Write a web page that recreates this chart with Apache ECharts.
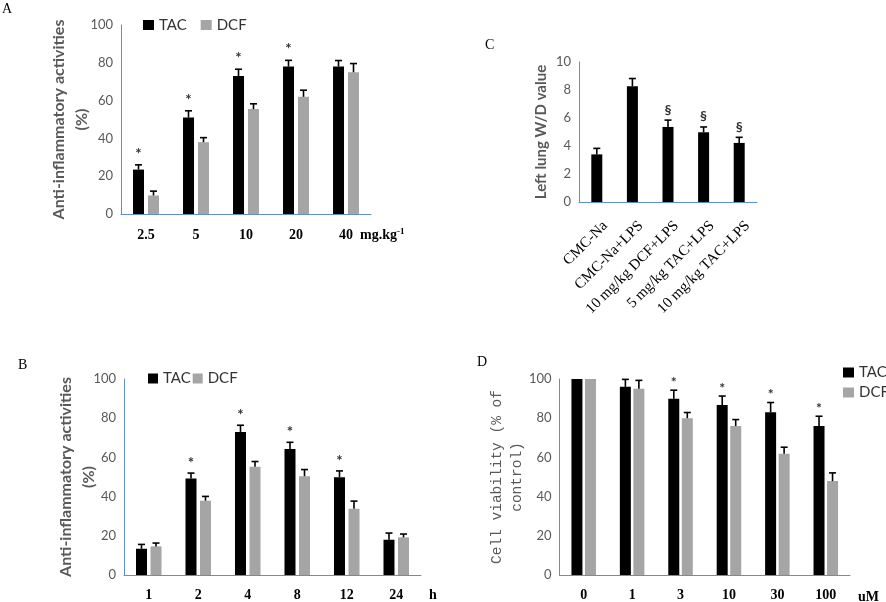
<!DOCTYPE html>
<html>
<head>
<meta charset="utf-8">
<script src="https://cdn.jsdelivr.net/npm/echarts@6/dist/echarts.min.js"></script>
<style>
html,body{margin:0;padding:0;background:#fff;}
#chart{width:886px;height:602px;}
</style>
</head>
<body>
<div id="chart"></div>
<script>
// ---------- Panel A: dose (mg/kg) ----------
const A_categories = ['2.5', '5', '10', '20', '40'];
const A_TAC = [23.5, 51, 73, 78, 78];
const A_TAC_err = [2.5, 3.6, 3.6, 3.3, 3.2];
const A_DCF = [9.8, 38, 55.5, 62, 75];
const A_DCF_err = [2.3, 2.4, 2.8, 3.5, 4.6];
const A_sig = [1, 1, 1, 1, 0];

// ---------- Panel B: time (h) ----------
const B_categories = ['1', '2', '4', '8', '12', '24'];
const B_TAC = [13.4, 49.2, 73, 64.3, 49.9, 18];
const B_TAC_err = [2.2, 2.8, 3.4, 3.4, 3.2, 3.4];
const B_DCF = [14.6, 37.9, 55.2, 50.4, 33.8, 19.2];
const B_DCF_err = [1.7, 2.2, 2.7, 3.4, 3.9, 1.7];
const B_sig = [0, 1, 1, 1, 1, 0];

// ---------- Panel C: left lung W/D ----------
const C_categories = ['CMC-Na', 'CMC-Na+LPS', '10 mg/kg DCF+LPS', '5 mg/kg TAC+LPS', '10 mg/kg TAC+LPS'];
const C_values = [3.4, 8.27, 5.36, 4.98, 4.22];
const C_err = [0.43, 0.55, 0.49, 0.38, 0.40];
const C_sig = [0, 0, 1, 1, 1];

// ---------- Panel D: cell viability (uM) ----------
const D_categories = ['0', '1', '3', '10', '30', '100'];
const D_TAC = [100, 96, 89.9, 86.7, 83, 76];
const D_TAC_err = [0, 3.8, 4.4, 4.6, 5, 5];
const D_DCF = [100, 95, 80, 76, 61.8, 47.9];
const D_DCF_err = [0, 4.3, 2.9, 3.3, 3.4, 4.2];
const D_sig = [0, 0, 1, 1, 1, 1];

const BLACK = '#000000';
const GRAY = '#A5A5A5';
const AXIS_BLUE = '#5B8ED6';
const TICK_GRAY = '#595959';
const SANS = 'Lato, "Liberation Sans", sans-serif';
const SERIF = '"Liberation Serif", "Times New Roman", serif';

function errSeries(idx, vals, errs, sig, offset, mark, markGap, markSize, markFont) {
  return {
    type: 'custom',
    xAxisIndex: idx, yAxisIndex: idx,
    z: 5,
    silent: true,
    data: vals.map((v, i) => [i, v, errs[i], sig ? sig[i] : 0]),
    renderItem: function (params, api) {
      const cx = api.coord([api.value(0), 0])[0] + offset;
      const v = api.value(1), e = api.value(2), s = api.value(3);
      const yBar = api.coord([0, v])[1];
      const yTop = api.coord([0, v + e])[1];
      const children = [];
      if (e > 0) {
        children.push({ type: 'line', shape: { x1: cx, y1: yBar, x2: cx, y2: yTop }, style: { stroke: '#000', lineWidth: 1.6 } });
        children.push({ type: 'line', shape: { x1: cx - 3.5, y1: yTop, x2: cx + 3.5, y2: yTop }, style: { stroke: '#000', lineWidth: 1.6 } });
      }
      if (s) {
        children.push({ type: 'text', style: { text: mark, x: cx, y: yTop - markGap, align: 'center', verticalAlign: 'middle', fill: '#333', fontSize: markSize, fontFamily: markFont, fontWeight: 'bold' } });
      }
      return { type: 'group', children: children };
    }
  };
}

function yAxisCfg(idx, max, interval, name, nameGap, nameStyle) {
  return {
    gridIndex: idx, type: 'value', min: 0, max: max, interval: interval,
    axisLine: { show: true, lineStyle: { color: AXIS_BLUE, width: 1 } },
    axisTick: { show: false },
    splitLine: { show: false },
    axisLabel: { color: TICK_GRAY, fontSize: 13, fontFamily: SANS, margin: 8 },
    name: name, nameLocation: 'middle', nameRotate: 90, nameGap: nameGap,
    nameMoveOverlap: false,
    nameTextStyle: nameStyle
  };
}

function xAxisCfg(idx, cats, labelCfg) {
  return {
    gridIndex: idx, type: 'category', data: cats,
    axisLine: { show: true, lineStyle: { color: AXIS_BLUE, width: 1 } },
    axisTick: { show: false },
    axisLabel: Object.assign({ color: '#000', fontSize: 14, fontFamily: SERIF, fontWeight: 'bold', margin: 14, interval: 0 }, labelCfg || {})
  };
}

const titleStyle = { color: TICK_GRAY, fontSize: 16, fontWeight: 'bold', fontFamily: SANS, lineHeight: 23 };
const legendText = { fontSize: 15, color: '#333', fontFamily: SANS };

const option = {
  animation: false,
  backgroundColor: '#ffffff',
  grid: [
    { left: 121, top: 25, width: 250, height: 189 },
    { left: 124, top: 379, width: 297, height: 197 },
    { left: 579, top: 62, width: 178, height: 140 },
    { left: 559.5, top: 379, width: 290.5, height: 198.5 }
  ],
  xAxis: [
    xAxisCfg(0, A_categories),
    xAxisCfg(1, B_categories, { margin: 13 }),
    xAxisCfg(2, C_categories, { rotate: 45, fontWeight: 'normal', fontSize: 15, margin: 13, verticalAlign: 'top', lineHeight: 24 }),
    xAxisCfg(3, D_categories, { margin: 13 })
  ],
  yAxis: [
    yAxisCfg(0, 100, 20, 'Anti-inflammatory activities\n(%)', 28, titleStyle),
    yAxisCfg(1, 100, 20, 'Anti-inflammatory activities\n(%)', 24, titleStyle),
    yAxisCfg(2, 10, 2, 'Left lung W/D value', 30, { color: TICK_GRAY, fontSize: 15, fontWeight: 'bold', fontFamily: SANS }),
    yAxisCfg(3, 100, 20, 'Cell viability (% of\ncontrol)', 32, { color: TICK_GRAY, fontSize: 14.5, fontFamily: '"Liberation Mono", "Courier New", monospace', lineHeight: 20 })
  ],
  legend: [
    { left: 143, top: 17.5, padding: 0, icon: 'rect', itemWidth: 11, itemHeight: 10, itemGap: 14, data: ['TAC', 'DCF'], textStyle: legendText },
    { left: 148, top: 371, padding: 0, icon: 'rect', itemWidth: 10, itemHeight: 10, itemGap: 2, data: ['TAC', 'DCF'], textStyle: legendText },
    { left: 843, top: 365, padding: 0, orient: 'vertical', icon: 'rect', itemWidth: 11, itemHeight: 10, itemGap: 5, data: ['TAC', 'DCF'], textStyle: legendText }
  ],
  graphic: [
    { type: 'text', left: 2, top: 2, style: { text: 'A', font: '14px "Liberation Serif"', fill: '#000' } },
    { type: 'text', left: 18, top: 358, style: { text: 'B', font: '14px "Liberation Serif"', fill: '#000' } },
    { type: 'text', left: 485, top: 38, style: { text: 'C', font: '14px "Liberation Serif"', fill: '#000' } },
    { type: 'text', left: 477, top: 355, style: { text: 'D', font: '14px "Liberation Serif"', fill: '#000' } },
    { type: 'text', left: 360, top: 227, style: { text: '{b|mg.kg}{s|-1}', rich: { b: { fontSize: 14, fontWeight: 'bold', fontFamily: SERIF, color: '#000' }, s: { fontSize: 9, fontWeight: 'bold', fontFamily: SERIF, color: '#000', verticalAlign: 'top', padding: [0, 0, 8, 0] } } } },
    { type: 'text', left: 429, top: 588, style: { text: 'h', font: 'bold 14px "Liberation Serif"', fill: '#000' } },
    { type: 'text', left: 858, top: 590, style: { text: 'uM', font: 'bold 14px "Liberation Serif"', fill: '#000' } }
  ],
  series: [
    // A
    { name: 'TAC', type: 'bar', xAxisIndex: 0, yAxisIndex: 0, data: A_TAC, barWidth: 11, barGap: '36%', itemStyle: { color: BLACK } },
    { name: 'DCF', type: 'bar', xAxisIndex: 0, yAxisIndex: 0, data: A_DCF, barWidth: 11, barGap: '36%', itemStyle: { color: GRAY } },
    errSeries(0, A_TAC, A_TAC_err, A_sig, -7.5, '*', 11, 15, SANS),
    errSeries(0, A_DCF, A_DCF_err, null, 7.5, '*', 11, 15, SANS),
    // B
    { name: 'TAC', type: 'bar', xAxisIndex: 1, yAxisIndex: 1, data: B_TAC, barWidth: 11, barGap: '32%', itemStyle: { color: BLACK } },
    { name: 'DCF', type: 'bar', xAxisIndex: 1, yAxisIndex: 1, data: B_DCF, barWidth: 11, barGap: '32%', itemStyle: { color: GRAY } },
    errSeries(1, B_TAC, B_TAC_err, B_sig, -7.25, '*', 10, 15, SANS),
    errSeries(1, B_DCF, B_DCF_err, null, 7.25, '*', 10, 15, SANS),
    // C
    { name: 'W/D', type: 'bar', xAxisIndex: 2, yAxisIndex: 2, data: C_values, barWidth: 11, itemStyle: { color: BLACK } },
    errSeries(2, C_values, C_err, C_sig, 0, '\u00a7', 10, 14, SANS),
    // D
    { name: 'TAC', type: 'bar', xAxisIndex: 3, yAxisIndex: 3, data: D_TAC, barWidth: 11, barGap: '23%', itemStyle: { color: BLACK } },
    { name: 'DCF', type: 'bar', xAxisIndex: 3, yAxisIndex: 3, data: D_DCF, barWidth: 11, barGap: '23%', itemStyle: { color: GRAY } },
    errSeries(3, D_TAC, D_TAC_err, D_sig, -6.75, '*', 8, 14, SANS),
    errSeries(3, D_DCF, D_DCF_err, null, 6.75, '*', 8, 14, SANS)
  ]
};

const chart = echarts.init(document.getElementById('chart'), null, { renderer: 'canvas' });
chart.setOption(option);
</script>
</body>
</html>
